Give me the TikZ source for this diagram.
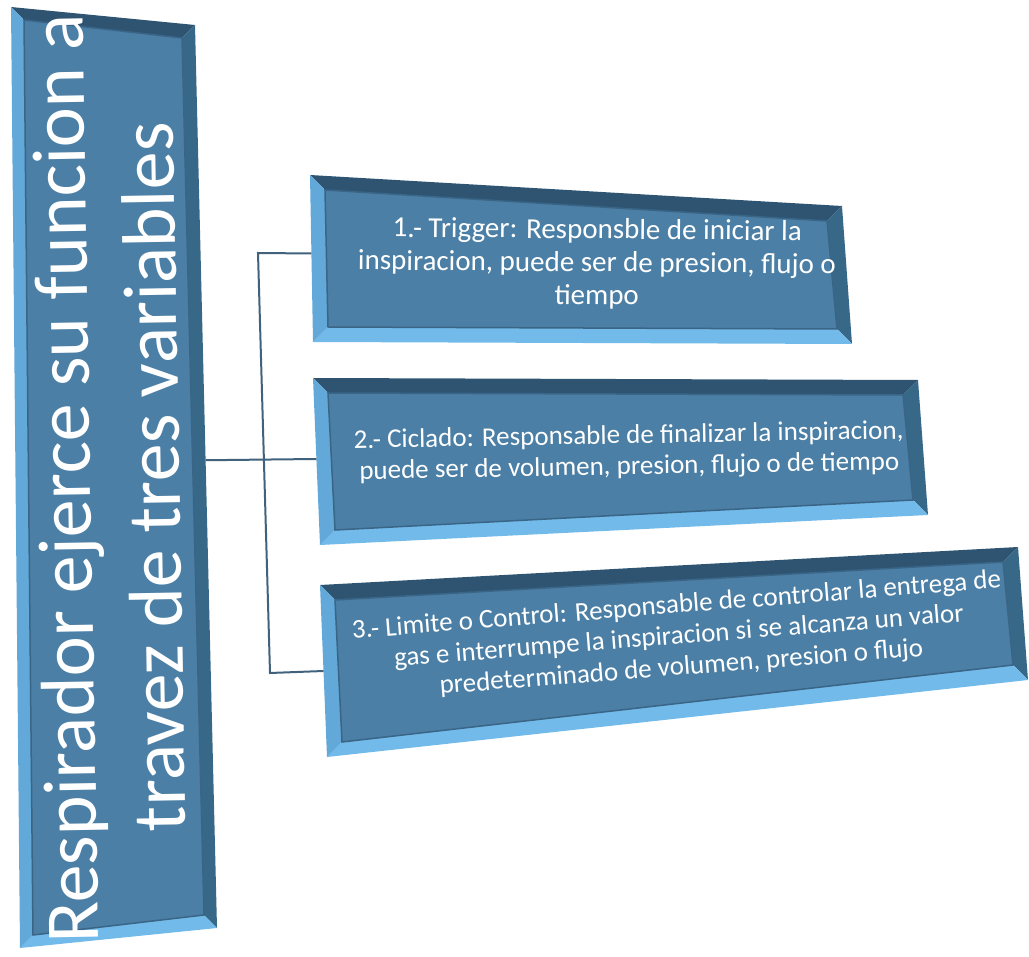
\documentclass[tikz,border=0pt]{standalone}
\usepackage{fontspec}
\setmainfont{Carlito}
\usetikzlibrary{calc}
\definecolor{face}{HTML}{4B7FA5}
\definecolor{edgetop}{HTML}{2E5472}
\definecolor{edgeright}{HTML}{386888}
\definecolor{edgeleft}{HTML}{62A8D8}
\definecolor{edgebottom}{HTML}{72BAE9}
\definecolor{rim}{HTML}{3A6586}
\definecolor{wire}{HTML}{41627C}

% bevelled quad: name, corners tl tr br bl, bevel width
\newcommand{\bevelbox}[6]{%
  \coordinate (#1-tl) at #2;
  \coordinate (#1-tr) at #3;
  \coordinate (#1-br) at #4;
  \coordinate (#1-bl) at #5;
  \coordinate (#1-itl) at ($(#1-tl)+(#6,#6)$);
  \coordinate (#1-itr) at ($(#1-tr)+(-#6,#6)$);
  \coordinate (#1-ibr) at ($(#1-br)+(-#6,-#6)$);
  \coordinate (#1-ibl) at ($(#1-bl)+(#6,-#6)$);
  \fill [edgetop] (#1-tl) -- (#1-tr) -- (#1-itr) -- (#1-itl) -- cycle;
  \fill [edgeright] (#1-tr) -- (#1-br) -- (#1-ibr) -- (#1-itr) -- cycle;
  \fill [edgebottom] (#1-br) -- (#1-bl) -- (#1-ibl) -- (#1-ibr) -- cycle;
  \fill [edgeleft] (#1-bl) -- (#1-tl) -- (#1-itl) -- (#1-ibl) -- cycle;
  \filldraw [fill=face, draw=rim, line width=1.5] (#1-itl) -- (#1-itr) -- (#1-ibr) -- (#1-ibl) -- cycle;
}

\begin{document}
\begin{tikzpicture}[x=1pt, y=-1pt,
    boxtext/.style={text=white, align=center, inner sep=0pt},
    link/.style={draw=wire, line width=2}]
    \useasboundingbox (0,0) rectangle (1029,957);

    % left column
    \bevelbox{col}{(11,7)}{(195,25)}{(217,928)}{(20,948)}{13}
    \node[text=white, align=center, rotate=91, font=\fontsize{76}{89}\selectfont] (title) at (109,478)
      {Respirador ejerce su funcion a\\travez de tres variables};

    % the three boxes
    \bevelbox{b1}{(310,175)}{(842,206)}{(852,344)}{(313,342)}{15}
    \bevelbox{b2}{(313,378)}{(918,380)}{(928,515)}{(320,545)}{15}
    \bevelbox{b3}{(320,585)}{(1018,547)}{(1028,680)}{(327,757)}{15}

    \node[boxtext, rotate=-0.5, font=\fontsize{29}{33}\selectfont] (trigger) at (597,264)
      {1.- Trigger: Responsble de iniciar la\\inspiracion, puede ser de presion, flujo o\\tiempo};
    \node[boxtext, rotate=1, font=\fontsize{27}{31}\selectfont] (ciclado) at (629,452)
      {2.- Ciclado: Responsable de finalizar la inspiracion,\\puede ser de volumen, presion, flujo o de tiempo};
    \node[boxtext, rotate=4.5, font=\fontsize{27}{31}\selectfont] (limite) at (679,637)
      {3.- Limite o Control: Responsable de controlar la entrega de\\gas e interrumpe la inspiracion si se alcanza un valor\\predeterminado de volumen, presion o flujo};

    % connectors
    \coordinate (col-out) at ($(col-tr)!0.482!(col-br)$);
    \coordinate (b1-in) at ($(b1-tl)!0.47!(b1-bl)$);
    \coordinate (b2-in) at ($(b2-tl)!0.485!(b2-bl)$);
    \coordinate (b3-in) at ($(b3-tl)!0.5!(b3-bl)$);
    \coordinate (fork-top) at (258,253);
    \coordinate (fork-bot) at (270,673);
    \draw[link] (b1-in) -- (fork-top) -- (fork-bot) -- (b3-in);
    \draw[link] (col-out) -- (b2-in);
\end{tikzpicture}
\end{document}
